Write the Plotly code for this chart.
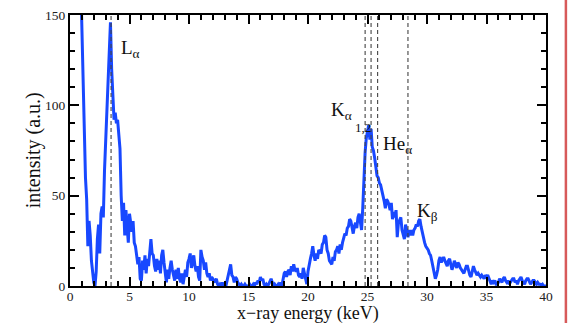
import numpy as np
import plotly.graph_objects as go

# Energy grid (keV) for the measured spectrum
energy_start = 0.9
energy_step = 0.1

# Measured intensity (a.u.), one row per keV
intensity = [
    170, 142, 110, 84, 60, 48, 22, 36, 28, 14, 6,           # 0.9 - 1.9
    2, 0, 8, 26, 34, 18, 40, 44, 38, 64,                    # 2.0 - 2.9
    82, 96, 116, 138, 146, 120, 100, 92, 96, 90,            # 3.0 - 3.9
    92, 82, 76, 50, 36, 46, 28, 42, 34, 24,                 # 4.0 - 4.9
    40, 33, 30, 36, 24, 22, 15, 12, 16, 4,                  # 5.0
    3, 14, 9, 17, 7, 15, 11, 19, 26, 18,                    # 6.0
    17, 11, 8, 15, 9, 14, 7, 17, 20, 13,                    # 7.0
    6, 2, 9, 4, 10, 14, 9, 6, 3, 9,                         # 8.0
    4, 10, 4, 2, 7, 1, 5, 9, 5, 13,                         # 9.0
    15, 18, 10, 15, 17, 11, 8, 11, 5, 3,                    # 10.0
    20, 16, 14, 9, 13, 7, 5, 7, 3, 5,                       # 11.0
    4, 2, 3, 4, 1, 0, 1, 0, 2, 0,                           # 12.0
    1, 0, 3, 7, 9, 12, 6, 5, 2, 5,                          # 13.0
    4, 2, 1, 0, 1, 0, 0, 1, 0, 0,                           # 14.0
    0, 1, 0, 0, 1, 0, 2, 1, 3, 2,                           # 15.0
    5, 3, 4, 1, 0, 1, 0, 1, 3, 4,                           # 16.0
    2, 0, 1, 0, 0, 1, 0, 2, 0, 5,                           # 17.0
    7, 8, 5, 8, 9, 6, 11, 8, 12, 9,                         # 18.0
    8, 10, 6, 5, 7, 4, 10, 7, 4, 1,                         # 19.0
    8, 13, 15, 18, 22, 17, 14, 18, 15, 20,                  # 20.0
    19, 18, 23, 24, 28, 27, 20, 18, 14, 13,                 # 21.0
    12, 16, 14, 19, 20, 22, 18, 23, 20, 24,                 # 22.0
    26, 29, 28, 32, 33, 37, 36, 32, 29, 33,                 # 23.0
    35, 32, 38, 40, 35, 31, 43, 64, 74, 82,                 # 24.0
    86, 89, 81, 87, 77, 75, 71, 66, 61, 60,                 # 25.0
    57, 56, 52, 50, 47, 43, 48, 47, 45, 42,                 # 26.0
    46, 37, 41, 38, 42, 27, 35, 37, 38, 31,                 # 27.0
    28, 26, 34, 30, 27, 31, 28, 31, 28, 31,                 # 28.0
    32, 34, 33, 36, 37, 33, 30, 26, 24, 22,                 # 29.0
    21, 20, 18, 17, 14, 11, 7, 4, 6, 9,                     # 30.0
    14, 16, 13, 15, 16, 14, 12, 11, 14, 15,                 # 31.0
    12, 9, 11, 14, 12, 10, 13, 12, 10, 9,                   # 32.0
    8, 7, 9, 11, 11, 8, 6, 5, 8, 11,                        # 33.0
    9, 7, 6, 7, 6, 5, 6, 5, 4, 6,                           # 34.0
    5, 6, 4, 2, 1, 3, 2, 3, 1, 1,                           # 35.0
    2, 4, 3, 2, 4, 5, 3, 2, 3, 1,                           # 36.0
    2, 3, 4, 4, 2, 3, 1, 3, 4, 5,                           # 37.0
    3, 2, 1, 3, 4, 4, 2, 1, 2, 3,                           # 38.0
    3, 2, 1, 2, 1, 1, 0.5, 1, 0, 0,                         # 39.0
    0,                                                      # 40.0
]
energy = np.round(energy_start + energy_step * np.arange(len(intensity)), 2)

# Reference line energies (keV)
line_energies = [3.45, 24.8, 25.3, 25.85, 28.4]

FONT = "Liberation Serif, serif"
BLUE = "rgb(24,72,255)"
INK = "#111111"

fig = go.Figure()
fig.add_trace(go.Scatter(
    x=energy, y=intensity, mode="lines",
    line=dict(color=BLUE, width=3),
    showlegend=False, hoverinfo="skip",
))

for e in line_energies:
    fig.add_shape(type="line", xref="x", yref="y", x0=e, x1=e, y0=0, y1=150,
                  line=dict(color="#444444", width=1.1, dash="4px,3px"), layer="above")


def label(x, y, text, size=19):
    fig.add_annotation(x=x, y=y, xref="x", yref="y", text=text, showarrow=False,
                       xanchor="left", yanchor="middle",
                       font=dict(family=FONT, size=size, color=INK))


label(4.1, 131, "L<sub>α</sub>")
label(21.8, 97, "K<sub>α</sub>")
label(23.75, 88, "1,2", size=13)
label(26.1, 78, "He<sub>α</sub>")
label(28.95, 41, "K<sub>β</sub>")

# axis titles
fig.add_annotation(x=0.5, y=-0.101, xref="paper", yref="paper", text="x−ray energy (keV)",
                   showarrow=False, xanchor="center", yanchor="middle",
                   font=dict(family=FONT, size=18, color=INK))
fig.add_annotation(x=-0.076, y=0.5, xref="paper", yref="paper", text="intensity (a.u.)",
                   showarrow=False, xanchor="center", yanchor="middle", textangle=-90,
                   font=dict(family=FONT, size=20, color=INK))

axis_common = dict(
    showline=True, linecolor="black", linewidth=2, mirror="allticks",
    ticks="inside", ticklen=9, tickwidth=2, tickcolor="black",
    showgrid=False, zeroline=False, automargin=False,
    tickfont=dict(family=FONT, size=13.5, color="#222222"),
)

fig.update_xaxes(
    range=[0, 40], tick0=0, dtick=5, ticklabelstandoff=-3,
    minor=dict(dtick=1, ticks="inside", ticklen=5, tickwidth=1.5, tickcolor="black"),
    **axis_common,
)
fig.update_yaxes(
    range=[0, 150], tick0=0, dtick=50,
    minor=dict(dtick=10, ticks="inside", ticklen=5, tickwidth=1.5, tickcolor="black"),
    **axis_common,
)

# thin red rule at the right edge of the page
fig.add_shape(type="line", xref="paper", yref="paper", x0=1.0418, x1=1.0418, y0=-0.2, y1=1.1,
              line=dict(color="rgb(215,90,90)", width=2.5))

fig.update_layout(
    width=572, height=323,
    margin=dict(l=70, r=26, t=15, b=37),
    paper_bgcolor="white", plot_bgcolor="white",
)

fig.write_html("out.html")
